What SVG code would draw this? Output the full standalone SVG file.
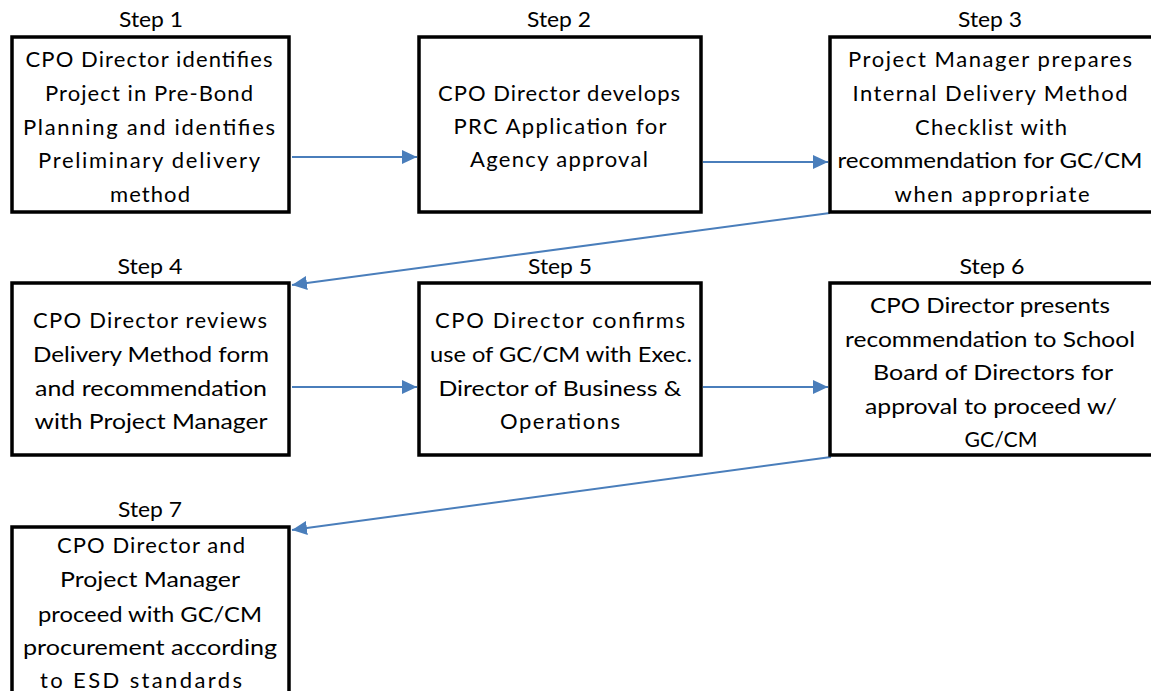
<svg xmlns="http://www.w3.org/2000/svg" width="1151" height="691" viewBox="0 0 1151 691">
<style>
  .box { fill: #ffffff; stroke: #000000; stroke-width: 3.5; }
  .t { font-family: Lato, "Liberation Sans", sans-serif; font-size: 22px; fill: #000000; text-anchor: middle; }
  .conn { stroke: #4a7ebb; stroke-width: 2; fill: none; marker-end: url(#arr); }
</style>
<defs>
  <marker id="arr" markerUnits="userSpaceOnUse" markerWidth="16" markerHeight="14" viewBox="0 0 16 14" refX="15" refY="7" orient="auto">
    <path d="M0,0 L15,7 L0,14 Z" fill="#4a7ebb"/>
  </marker>
</defs>
<rect x="0" y="0" width="1151" height="691" fill="#ffffff"/>

<g id="connectors">
  <line class="conn" x1="292" y1="157" x2="417" y2="157"/>
  <line class="conn" x1="703" y1="162" x2="828" y2="162"/>
  <line class="conn" x1="830" y1="213" x2="292" y2="285"/>
  <line class="conn" x1="292" y1="387" x2="417" y2="387"/>
  <line class="conn" x1="703" y1="387" x2="828" y2="387"/>
  <line class="conn" x1="831" y1="457" x2="292" y2="530"/>
</g>

<g id="step1">
  <text class="t" x="151" y="27" textLength="64" lengthAdjust="spacingAndGlyphs">Step 1</text>
  <rect class="box" x="12" y="37" width="277" height="175"/>
  <text class="t" x="149" y="67" textLength="247" lengthAdjust="spacing">CPO Director identifies</text>
  <text class="t" x="149" y="101" textLength="208" lengthAdjust="spacing">Project in Pre-Bond</text>
  <text class="t" x="149" y="135" textLength="252" lengthAdjust="spacing">Planning and identifies</text>
  <text class="t" x="149" y="168" textLength="222" lengthAdjust="spacing">Preliminary delivery</text>
  <text class="t" x="150" y="202" textLength="80" lengthAdjust="spacing">method</text>
</g>

<g id="step2">
  <text class="t" x="559" y="27" textLength="64" lengthAdjust="spacingAndGlyphs">Step 2</text>
  <rect class="box" x="419" y="37" width="282" height="175"/>
  <text class="t" x="559" y="101" textLength="242" lengthAdjust="spacing">CPO Director develops</text>
  <text class="t" x="560" y="134" textLength="213" lengthAdjust="spacing">PRC Application for</text>
  <text class="t" x="559" y="167" textLength="178" lengthAdjust="spacing">Agency approval</text>
</g>

<g id="step3">
  <text class="t" x="990" y="27" textLength="64" lengthAdjust="spacingAndGlyphs">Step 3</text>
  <rect class="box" x="830" y="37" width="324" height="175"/>
  <text class="t" x="990" y="67" textLength="284" lengthAdjust="spacing">Project Manager prepares</text>
  <text class="t" x="990" y="101" textLength="275" lengthAdjust="spacing">Internal Delivery Method</text>
  <text class="t" x="991" y="135" textLength="152" lengthAdjust="spacing">Checklist with</text>
  <text class="t" x="990" y="168" textLength="305" lengthAdjust="spacingAndGlyphs">recommendation for GC/CM</text>
  <text class="t" x="992" y="202" textLength="195" lengthAdjust="spacing">when appropriate</text>
</g>

<g id="step4">
  <text class="t" x="150" y="274" textLength="65" lengthAdjust="spacingAndGlyphs">Step 4</text>
  <rect class="box" x="12" y="283" width="277" height="172"/>
  <text class="t" x="150" y="328" textLength="234" lengthAdjust="spacing">CPO Director  reviews</text>
  <text class="t" x="151" y="362" textLength="236" lengthAdjust="spacingAndGlyphs">Delivery Method form</text>
  <text class="t" x="151" y="396" textLength="232" lengthAdjust="spacingAndGlyphs">and recommendation</text>
  <text class="t" x="151" y="429" textLength="233" lengthAdjust="spacingAndGlyphs">with Project Manager</text>
</g>

<g id="step5">
  <text class="t" x="560" y="274" textLength="64" lengthAdjust="spacingAndGlyphs">Step 5</text>
  <rect class="box" x="419" y="283" width="282" height="172"/>
  <text class="t" x="560" y="328" textLength="250" lengthAdjust="spacing">CPO Director  confirms</text>
  <text class="t" x="561" y="362" textLength="262" lengthAdjust="spacingAndGlyphs">use of GC/CM with Exec.</text>
  <text class="t" x="560" y="396" textLength="243" lengthAdjust="spacingAndGlyphs">Director of Business &amp;</text>
  <text class="t" x="560" y="429" textLength="120" lengthAdjust="spacing">Operations</text>
</g>

<g id="step6">
  <text class="t" x="992" y="274" textLength="65" lengthAdjust="spacingAndGlyphs">Step 6</text>
  <rect class="box" x="830" y="283" width="324" height="172"/>
  <text class="t" x="990" y="313" textLength="240" lengthAdjust="spacingAndGlyphs">CPO Director presents</text>
  <text class="t" x="990" y="347" textLength="290" lengthAdjust="spacingAndGlyphs">recommendation to School</text>
  <text class="t" x="993" y="380" textLength="240" lengthAdjust="spacingAndGlyphs">Board of Directors for</text>
  <text class="t" x="991" y="414" textLength="252" lengthAdjust="spacingAndGlyphs">approval to proceed w/</text>
  <text class="t" x="1001" y="447" textLength="73" lengthAdjust="spacingAndGlyphs">GC/CM</text>
</g>

<g id="step7">
  <text class="t" x="150" y="517" textLength="64" lengthAdjust="spacingAndGlyphs">Step 7</text>
  <rect class="box" x="12" y="527" width="277" height="180"/>
  <text class="t" x="151" y="553" textLength="188" lengthAdjust="spacing">CPO Director and</text>
  <text class="t" x="150" y="587" textLength="180" lengthAdjust="spacingAndGlyphs">Project Manager</text>
  <text class="t" x="150" y="622" textLength="224" lengthAdjust="spacingAndGlyphs">proceed with GC/CM</text>
  <text class="t" x="150" y="655" textLength="254" lengthAdjust="spacingAndGlyphs">procurement according</text>
  <text class="t" x="141" y="688" textLength="202" lengthAdjust="spacing">to ESD standards</text>
</g>
</svg>
